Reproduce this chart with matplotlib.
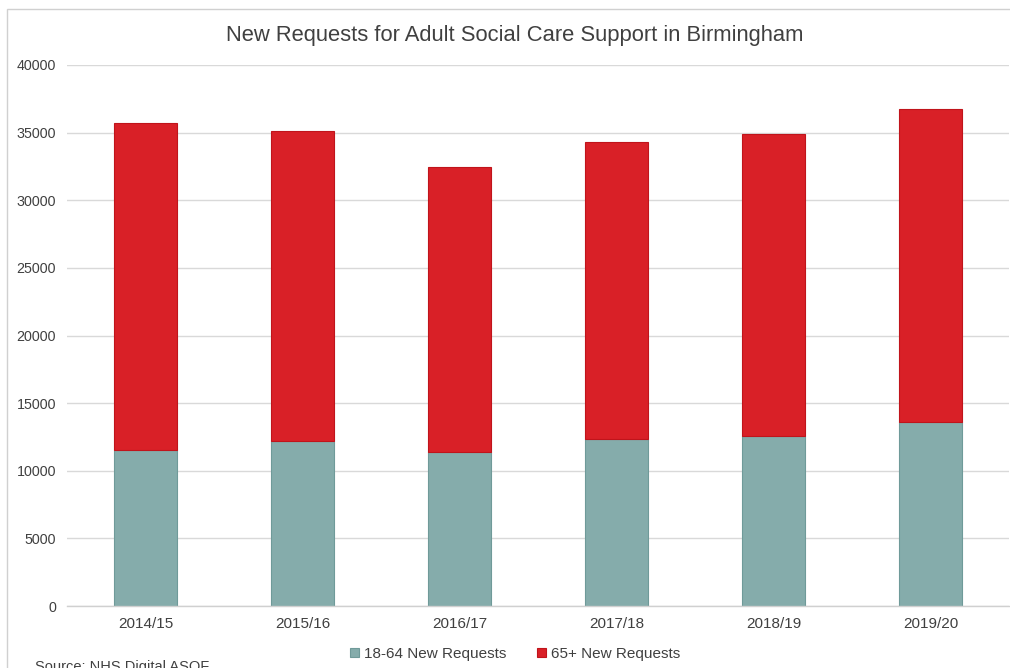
import matplotlib
matplotlib.use("Agg")
import matplotlib.pyplot as plt
from matplotlib.patches import Rectangle
import numpy as np

plt.rcParams['font.family'] = ['Liberation Sans', 'DejaVu Sans']

years = ["2014/15", "2015/16", "2016/17", "2017/18", "2018/19", "2019/20"]
age_18_64 = [11550, 12220, 11410, 12350, 12590, 13600]
age_65_plus_total = [35710, 35130, 32480, 34310, 34870, 36720]
age_65_plus = [t - a for t, a in zip(age_65_plus_total, age_18_64)]
yticks = [0, 5000, 10000, 15000, 20000, 25000, 30000, 35000, 40000]

teal = "#85ACAB"
red = "#D92027"

fig = plt.figure(figsize=(10.10, 6.68), dpi=100)
ax = fig.add_axes([67 / 1010, 1 - 606 / 668, (1009 - 67) / 1010, (606 - 65) / 668])

x = np.arange(len(years))
w = 0.40
ax.bar(x, age_18_64, width=w, color=teal, edgecolor="#6F9A99", linewidth=0.8,
       label="18-64 New Requests", zorder=3)
ax.bar(x, age_65_plus, width=w, bottom=age_18_64, color=red, edgecolor="#C0141B",
       linewidth=0.8, label="65+ New Requests", zorder=3)

ax.set_xlim(-0.5, len(years) - 0.5)
ax.set_ylim(0, 40000)
ax.set_yticks(yticks)
ax.set_yticklabels([str(v) for v in yticks])
ax.set_xticks(x)
ax.set_xticklabels(years)
ax.tick_params(axis="y", length=0, pad=8, labelsize=10.3, labelcolor="#404040")
ax.tick_params(axis="x", length=0, pad=8, labelsize=11, labelcolor="#404040")
ax.grid(axis="y", color="#D9D9D9", linewidth=1, zorder=0)
for side in ["left", "right", "top"]:
    ax.spines[side].set_visible(False)
ax.spines["bottom"].set_color("#D0D0D0")
ax.spines["bottom"].set_linewidth(1)
ax.spines["bottom"].set_zorder(4)

fig.text(515 / 1010, 1 - 36 / 668, "New Requests for Adult Social Care Support in Birmingham",
         ha="center", va="center", fontsize=15.8, color="#404040")

leg = fig.legend(loc="center", bbox_to_anchor=(515 / 1010, 1 - 654 / 668), ncol=2,
                 frameon=False, fontsize=11, handlelength=0.6, handleheight=0.6,
                 handletextpad=0.3, columnspacing=2.0)
for t in leg.get_texts():
    t.set_color("#404040")

fig.text(35 / 1010, 1 - 660 / 668, "Source: NHS Digital ASQF", ha="left", va="top",
         fontsize=10.5, color="#404040")

# outer chart frame
fig.add_artist(Rectangle((7 / 1010, -0.05), 1.1, 1 - 9 / 668 + 0.05,
                         transform=fig.transFigure, fill=False,
                         edgecolor="#D0D0D0", linewidth=1))

fig.savefig("out.png", dpi=100)
